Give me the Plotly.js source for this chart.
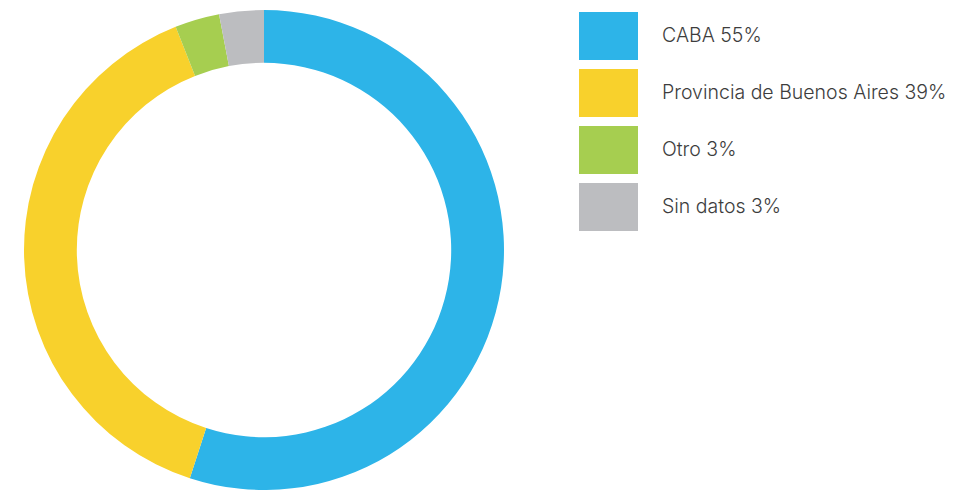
<!DOCTYPE html>
<html>
<head>
<meta charset="utf-8">
<script src="https://cdn.plot.ly/plotly-3.0.1.min.js"></script>
<style>
  html, body { margin: 0; padding: 0; background: #ffffff; }
  #chart { width: 964px; height: 494px; }
</style>
</head>
<body>
<div id="chart"></div>
<script>
const labels = ['CABA', 'Provincia de Buenos Aires', 'Otro', 'Sin datos'];
const shares = [55, 39, 3, 3];
const colors = ['#2db4e8', '#f8d12c', '#a6ce50', '#bcbdc0'];

const W = 964;
const H = 494;

// custom legend: big swatches + labels on the right
const swatchLeft = 579;
const swatchRight = 638;
const firstTop = 12;
const rowStep = 57;
const swatchHeight = 48;
const textLeft = 660;

const shapes = [];
const annotations = [];

labels.forEach((label, i) => {
  const top = firstTop + i * rowStep;
  shapes.push({
    type: 'rect',
    xref: 'paper',
    yref: 'paper',
    x0: swatchLeft / W,
    x1: swatchRight / W,
    y0: 1 - (top + swatchHeight) / H,
    y1: 1 - top / H,
    fillcolor: colors[i],
    line: { width: 0 },
  });
  annotations.push({
    xref: 'paper',
    yref: 'paper',
    x: textLeft / W,
    y: 1 - (top + swatchHeight / 2 - 1) / H,
    xanchor: 'left',
    yanchor: 'middle',
    showarrow: false,
    text: `${label} ${shares[i]}%`,
    font: { family: 'Inter, Roboto, sans-serif', size: 19.5, color: '#3d3d3d', weight: 300 },
  });
});

Plotly.newPlot('chart', [{
  type: 'pie',
  labels,
  values: shares,
  marker: { colors, line: { width: 0 } },
  hole: 0.78,
  sort: false,
  direction: 'clockwise',
  rotation: 0,
  textinfo: 'none',
  hoverinfo: 'label+percent',
  showlegend: false,
  domain: { x: [24 / W, 504 / W], y: [3 / H, 485 / H] },
}], {
  width: W,
  height: H,
  margin: { l: 0, r: 0, t: 0, b: 0 },
  paper_bgcolor: '#ffffff',
  plot_bgcolor: '#ffffff',
  showlegend: false,
  shapes,
  annotations,
}, {
  displayModeBar: false,
});
</script>
</body>
</html>
